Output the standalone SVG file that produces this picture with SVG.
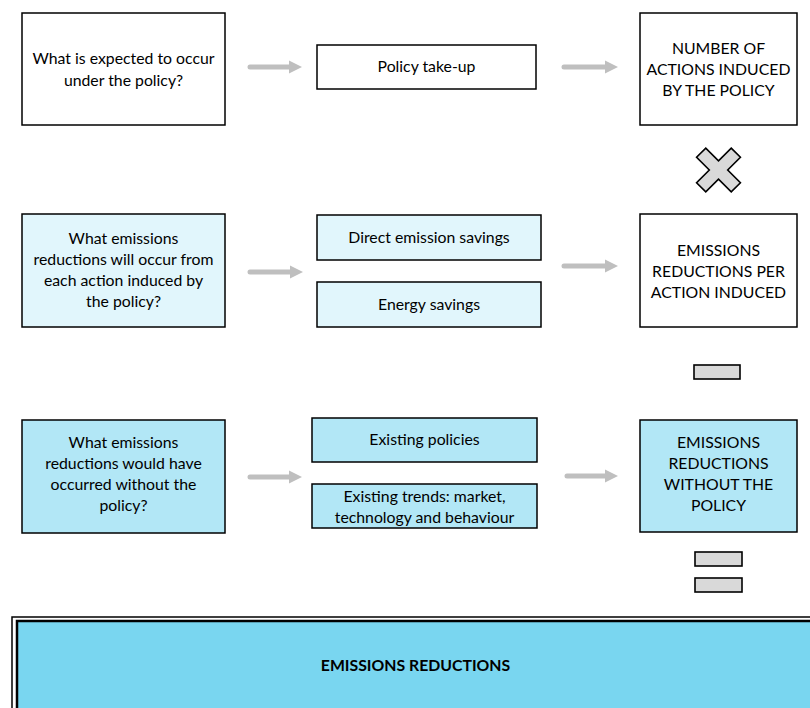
<svg xmlns="http://www.w3.org/2000/svg" width="810" height="708" viewBox="0 0 810 708">
<defs>
<style>
.box{stroke:#000;stroke-width:1.5}
.w{fill:#fff}
.c1{fill:#e1f6fc}
.c2{fill:#b2e7f6}
.t{font-family:Lato,"Open Sans","Liberation Sans",sans-serif;font-size:15.8px;fill:#000;text-anchor:middle}
.b{font-weight:bold;font-size:15.8px}
.sym{fill:#d9d9d9;stroke:#000;stroke-width:1.6}
.arr{stroke:#bfbfbf;stroke-width:5;fill:none;stroke-linecap:round}
.ah{fill:#bfbfbf}
</style>
<marker id="ah" viewBox="0 0 10 10" refX="0" refY="5" markerWidth="2.6" markerHeight="2.8" orient="auto" markerUnits="strokeWidth">
<path d="M0,0 L10,5 L0,10 Z" class="ah"/>
</marker>
</defs>
<rect width="810" height="708" fill="#fff"/>

<g id="q1"><rect class="box w" x="22" y="13" width="203" height="112"/>
<text class="t" x="123.5" y="64">What is expected to occur</text>
<text class="t" x="123.5" y="86">under the policy?</text></g>

<g id="takeup"><rect class="box w" x="317" y="45" width="219" height="44"/>
<text class="t" x="426.5" y="72">Policy take-up</text></g>

<g id="number"><rect class="box w" x="640" y="13" width="157" height="112"/>
<text class="t" x="718.5" y="54">NUMBER OF</text>
<text class="t" x="718.5" y="75">ACTIONS INDUCED</text>
<text class="t" x="718.5" y="96">BY THE POLICY</text></g>

<g id="times"><path class="sym" transform="translate(718.5,170) rotate(45)" d="M-6.5,-24.5 L6.5,-24.5 L6.5,-6.5 L24.5,-6.5 L24.5,6.5 L6.5,6.5 L6.5,24.5 L-6.5,24.5 L-6.5,6.5 L-24.5,6.5 L-24.5,-6.5 L-6.5,-6.5 Z"/></g>

<g id="q2"><rect class="box c1" x="22" y="214" width="203" height="113"/>
<text class="t" x="123.5" y="244">What emissions</text>
<text class="t" x="123.5" y="265">reductions will occur from</text>
<text class="t" x="123.5" y="286">each action induced by</text>
<text class="t" x="123.5" y="307">the policy?</text></g>

<g id="direct"><rect class="box c1" x="317" y="215" width="224" height="45"/>
<text class="t" x="429" y="243">Direct emission savings</text></g>

<g id="energy"><rect class="box c1" x="317" y="282" width="224" height="45"/>
<text class="t" x="429" y="310">Energy savings</text></g>

<g id="peraction"><rect class="box w" x="640" y="214" width="157" height="113"/>
<text class="t" x="718.5" y="256">EMISSIONS</text>
<text class="t" x="718.5" y="277">REDUCTIONS PER</text>
<text class="t" x="718.5" y="298">ACTION INDUCED</text></g>

<g id="minus"><rect class="sym" x="694" y="365" width="46" height="14"/></g>

<g id="q3"><rect class="box c2" x="22" y="420" width="203" height="113"/>
<text class="t" x="123.5" y="448">What emissions</text>
<text class="t" x="123.5" y="469">reductions would have</text>
<text class="t" x="123.5" y="490">occurred without the</text>
<text class="t" x="123.5" y="511">policy?</text></g>

<g id="policies"><rect class="box c2" x="312" y="418" width="225" height="44"/>
<text class="t" x="424.5" y="445">Existing policies</text></g>

<g id="trends"><rect class="box c2" x="312" y="484" width="225" height="44"/>
<text class="t" x="424.5" y="502">Existing trends: market,</text>
<text class="t" x="424.5" y="523">technology and behaviour</text></g>

<g id="without"><rect class="box c2" x="640" y="420" width="157" height="112"/>
<text class="t" x="718.5" y="448">EMISSIONS</text>
<text class="t" x="718.5" y="469">REDUCTIONS</text>
<text class="t" x="718.5" y="490">WITHOUT THE</text>
<text class="t" x="718.5" y="511">POLICY</text></g>

<g id="equals"><rect class="sym" x="695" y="552" width="47" height="14"/>
<rect class="sym" x="695" y="578" width="47" height="14"/></g>

<g id="total"><rect x="12" y="617" width="810" height="100" fill="#fff" stroke="#000" stroke-width="1.5"/>
<rect x="17" y="621" width="810" height="100" fill="#79d6f0" stroke="#000" stroke-width="2.5"/>
<text class="t b" x="415.5" y="671">EMISSIONS REDUCTIONS</text></g>

<g id="connectors">
<line class="arr" x1="250" y1="67" x2="289" y2="67" marker-end="url(#ah)"/>
<line class="arr" x1="564" y1="67" x2="605" y2="67" marker-end="url(#ah)"/>
<line class="arr" x1="250" y1="272" x2="290" y2="272" marker-end="url(#ah)"/>
<line class="arr" x1="564" y1="266" x2="605" y2="266" marker-end="url(#ah)"/>
<line class="arr" x1="250" y1="477" x2="289" y2="477" marker-end="url(#ah)"/>
<line class="arr" x1="567" y1="476" x2="605" y2="476" marker-end="url(#ah)"/>
</g>
</svg>
